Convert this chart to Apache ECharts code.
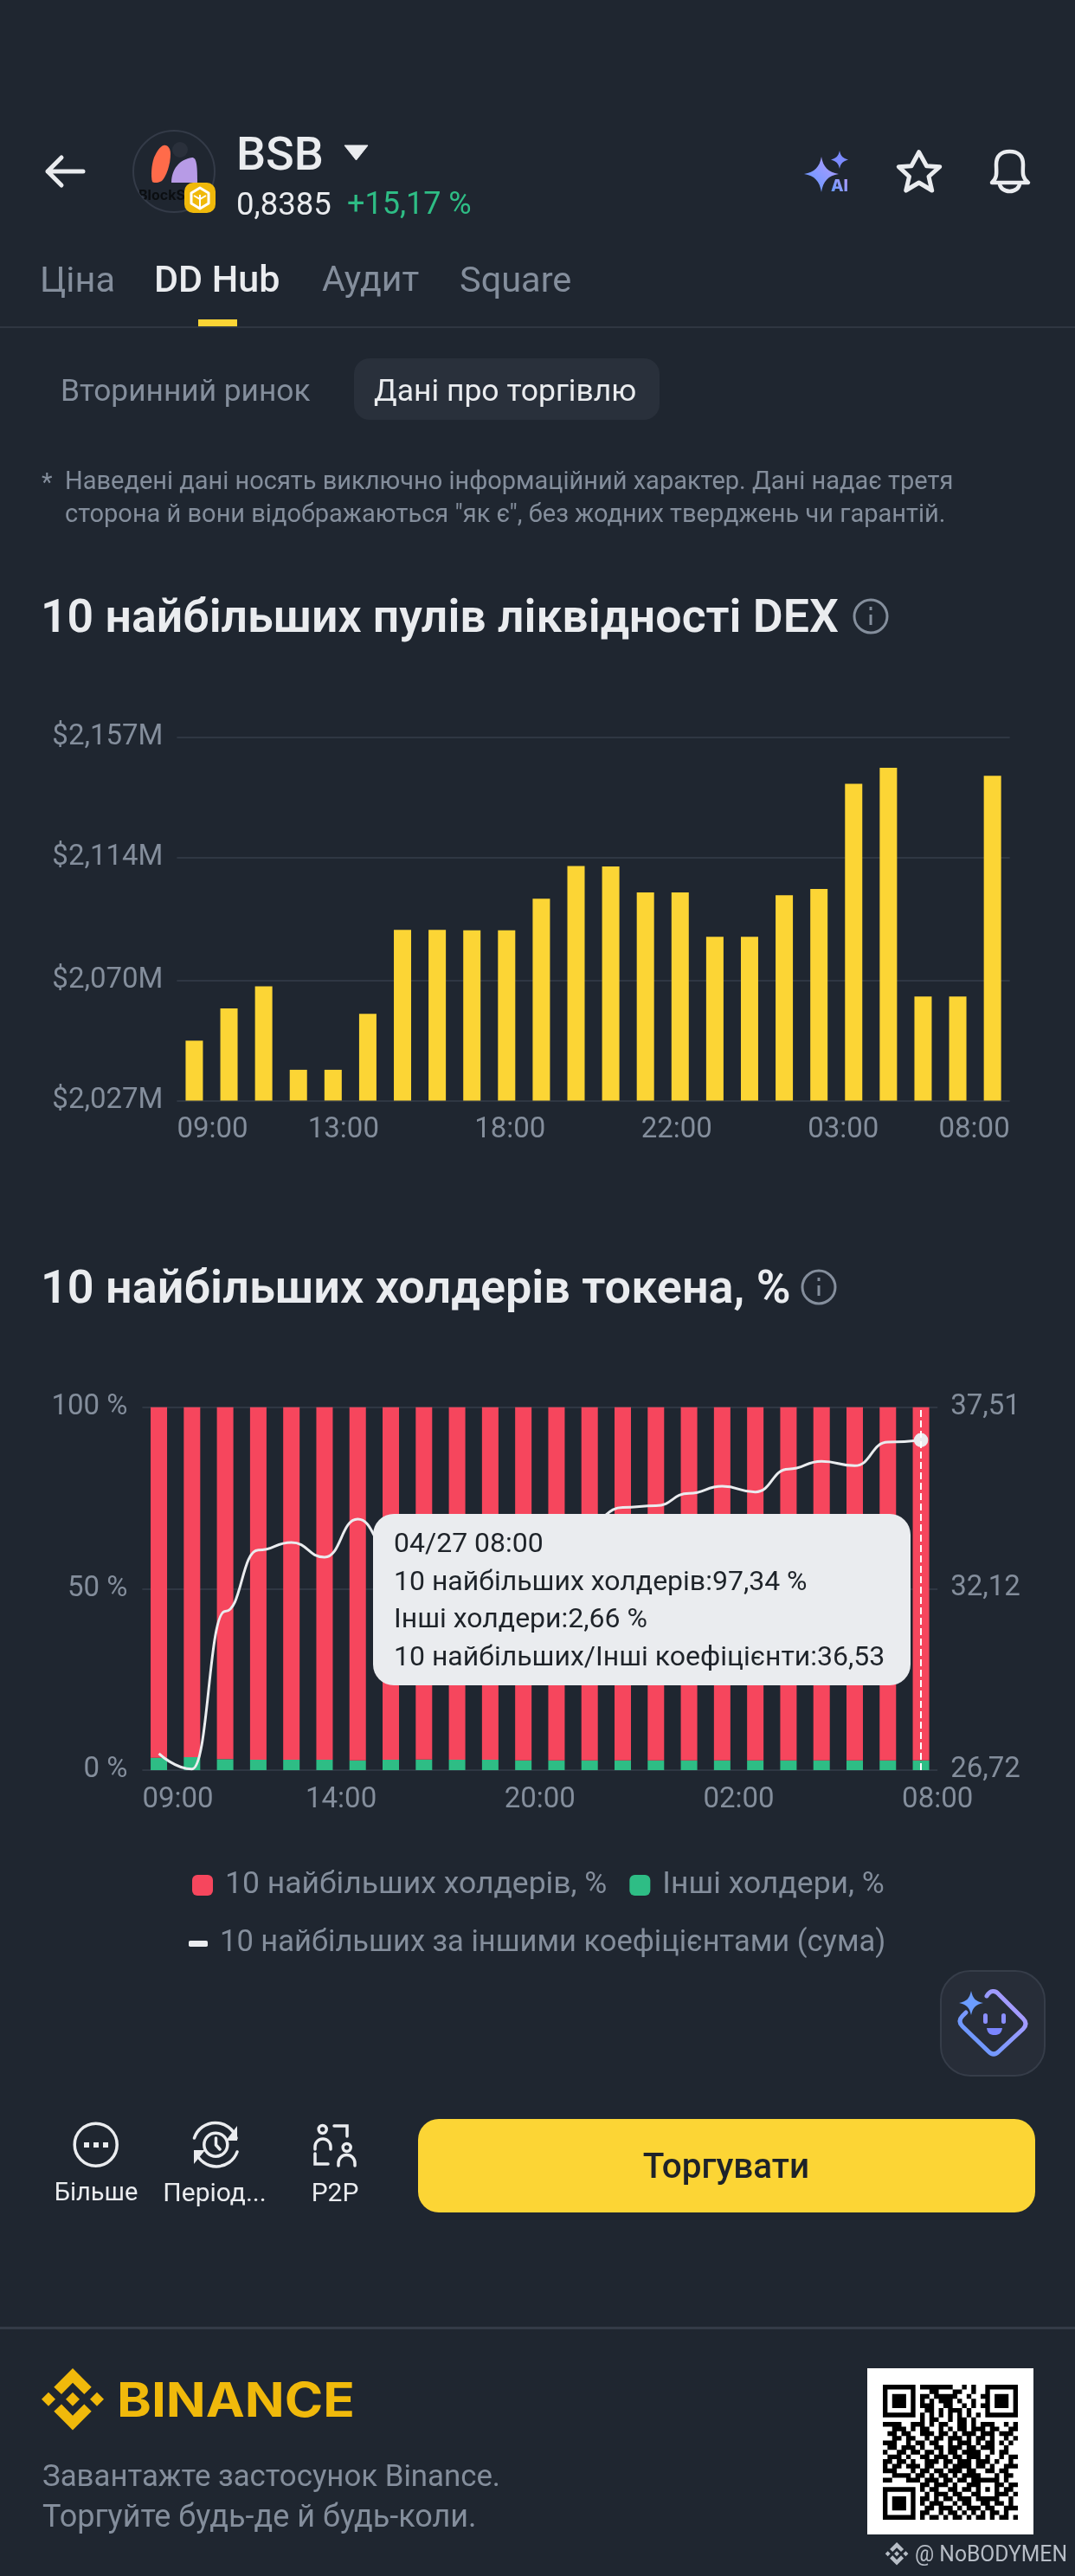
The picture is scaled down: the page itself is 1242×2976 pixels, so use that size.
<!DOCTYPE html>
<html lang="uk">
<head>
<meta charset="utf-8">
<title>BSB DD Hub</title>
<script src="https://cdn.jsdelivr.net/npm/echarts@6/dist/echarts.min.js"></script>
<style>
html,body{margin:0;padding:0;background:#1F2630;}
body{position:relative;width:1242px;height:2976px;overflow:hidden;font-family:Roboto,"Noto Sans",sans-serif;color:#EAECEF;}
.t{position:absolute;white-space:nowrap;transform:translateY(-50%);z-index:5;}
.c{transform:translate(-50%,-50%);}
.g{color:#848E9C;}
#chrome{position:absolute;left:0;top:0;z-index:4;}
#chart1,#chart2{position:absolute;left:0;width:1242px;}
#chart1{top:660px;height:690px;}
#chart2{top:1440px;height:840px;}
</style>
</head>
<body>
<div id="chart1"></div>
<div id="chart2"></div>

<svg id="chrome" width="1242" height="2976" viewBox="0 0 1242 2976" xmlns="http://www.w3.org/2000/svg">
  <defs>
    <linearGradient id="ai" x1="0" y1="1" x2="1" y2="0"><stop offset="0" stop-color="#5B97FF"/><stop offset="1" stop-color="#B99CFF"/></linearGradient>
    <linearGradient id="ai2" gradientUnits="userSpaceOnUse" x1="1108" y1="2370" x2="1185" y2="2300"><stop offset="0" stop-color="#5B97FF"/><stop offset="1" stop-color="#B99CFF"/></linearGradient>
    <g id="bnb">
      <polygon points="84,2763.7 92,2771.7 84,2779.7 76,2771.7"/>
      <polygon points="56,2763.7 64,2771.7 56,2779.7 48,2771.7"/>
      <polygon points="112,2763.7 120,2771.7 112,2779.7 104,2771.7"/>
      <polygon points="84,2736 105.7,2757.7 97.3,2766 84,2752.7 71,2766 62.3,2757.7"/>
      <polygon points="84,2807.4 105.7,2785.7 97.3,2777.4 84,2790.7 71,2777.4 62.3,2785.7"/>
    </g>
    <clipPath id="logoClip"><circle cx="201" cy="198" r="47"/></clipPath>
  </defs>
  <!-- back arrow -->
  <path d="M96 198H55M71 182L55 198L71 214" fill="none" stroke="#EAECEF" stroke-width="5" stroke-linecap="round" stroke-linejoin="round"/>
  <!-- token logo -->
  <circle cx="201" cy="198" r="47" fill="none" stroke="#343B48" stroke-width="2"/>
  <g clip-path="url(#logoClip)">
    <path d="M189 168C194 167 197 172 197 178C197 190 192 204 187 209C184 211 178 212 176 210C174 204 175 190 178 182C181 175 185 169 189 168Z" fill="#FF6B4A"/>
    <path d="M198 211C198 196 207 184 222 182C227 182 228 190 228 211Z" fill="#B79BE6"/>
    <circle cx="208" cy="173" r="9" fill="#2A303B"/>
    <text x="160" y="231" font-family="Inter,Roboto,sans-serif" font-size="16" font-weight="700" fill="#0B0E11">BlockS</text>
  </g>
  <rect x="213" y="211" width="36" height="35" rx="10" fill="#F0B90B"/>
  <path d="M231 217L241 223V235L231 241L221 235V223Z" fill="none" stroke="#fff" stroke-width="3" stroke-linejoin="round"/>
  <path d="M231 225V240M224 226L231 230L238 226" fill="none" stroke="#fff" stroke-width="2"/>
  <!-- dropdown triangle -->
  <path d="M398 168H425L411.5 185Z" fill="#EAECEF" stroke="#EAECEF" stroke-width="1" stroke-linejoin="round"/>
  <!-- AI -->
  <path d="M949 181C951 193 957 199 969 201C957 203 951 209 949 222C947 209 941 203 929 201C941 199 947 193 949 181Z" fill="url(#ai)"/>
  <path d="M970 174C971 180 974 183 980 184.500C974 186 971 189 970 195C969 189 966 186 960 184.500C966 183 969 180 970 174Z" fill="#7C8BFF"/>
  <text x="960" y="221" font-family="Inter,Roboto,sans-serif" font-size="19" font-weight="800" fill="url(#ai)">AI</text>
  <!-- star -->
  <polygon points="1061.700,175.700 1070.500,191.700 1085.700,192.700 1073,204 1076.700,220 1061.700,211 1046.700,220 1050.500,204 1038.300,192.700 1053,191.700" fill="none" stroke="#EAECEF" stroke-width="5" stroke-linejoin="round"/>
  <!-- bell -->
  <path d="M1146 211C1153 205 1151 198 1151 190C1151 180 1157 175 1166.500 175C1176 175 1182 180 1182 190C1182 198 1180 205 1188 211Z" fill="none" stroke="#EAECEF" stroke-width="4.500" stroke-linejoin="round"/>
  <path d="M1155 212A11.500 9 0 0 0 1178 212" fill="none" stroke="#EAECEF" stroke-width="4.500"/>
  <!-- tabs -->
  <rect x="229" y="369" width="45" height="8" fill="#FCD535"/>
  <rect x="0" y="377" width="1242" height="2" fill="#2F3641"/>
  <rect x="409" y="414" width="353" height="71" rx="18" fill="#29303B"/>
  <!-- info icons -->
  <g fill="none" stroke="#848E9C" stroke-width="3">
    <circle cx="1006" cy="712" r="19"/><circle cx="946" cy="1487" r="19"/>
    <path d="M1006 710V722M946 1485V1497"/>
    <path d="M1006 701V705M946 1476V1480"/>
  </g>
  <!-- floating assistant button -->
  <rect x="1087" y="2277" width="120" height="121" rx="34" fill="#272D38" stroke="#363D49" stroke-width="2"/>
  <path d="M1122 2300C1124 2309 1127 2312 1136 2314C1127 2316 1124 2319 1122 2328C1120 2319 1117 2316 1108 2314C1117 2312 1120 2309 1122 2300Z" fill="#6C9DFF"/>
  <path d="M1140 2306C1144 2299 1150 2299 1154 2304L1182 2332C1186 2336 1186 2340 1182 2344L1154 2370C1150 2374 1146 2374 1142 2370L1112 2341C1108 2337 1108 2333 1112 2329L1116 2325" fill="none" stroke="url(#ai2)" stroke-width="5" stroke-linecap="round"/>
  <rect x="1136" y="2326" width="5" height="12" rx="2.500" fill="#8B8FFF"/>
  <rect x="1157" y="2326" width="5" height="12" rx="2.500" fill="#8B8FFF"/>
  <path d="M1140 2343H1158C1157 2350 1153 2351 1149 2351C1145 2351 1141 2350 1140 2343Z" fill="#7A85FF"/>
  <!-- bottom action icons -->
  <g fill="none" stroke="#EAECEF" stroke-width="3.500" stroke-linecap="round">
    <circle cx="110.700" cy="2477.700" r="24.500"/>
    <path d="M224.500 2470A25.500 25.500 0 0 1 273 2470M274 2486A25.500 25.500 0 0 1 226 2486"/>
    <circle cx="249.300" cy="2477.700" r="13.500"/>
    <path d="M249.500 2470V2478L254 2483"/>
    <circle cx="372.700" cy="2460" r="4.500"/>
    <path d="M364 2483V2480A9 9 0 0 1 382 2480V2483M386 2456H401V2468"/>
    <circle cx="400.700" cy="2481" r="4.500"/>
    <path d="M391 2502V2499A9.500 9.500 0 0 1 410 2499V2502M364 2488V2500H379"/>
  </g>
  <g fill="#EAECEF">
    <rect x="97" y="2475" width="6" height="6"/><rect x="108" y="2475" width="6" height="6"/><rect x="119" y="2475" width="6" height="6"/>
    <polygon points="274,2456 274,2473 261,2473"/><polygon points="224,2500 224,2484 237,2484"/>
  </g>
  <!-- trade button -->
  <rect x="483" y="2448" width="713" height="108" rx="24" fill="#FCD535"/>
  <!-- footer -->
  <rect x="0" y="2688" width="1242" height="3" fill="#343B47"/>
  <use href="#bnb" fill="#F0B90B"/>
  <text x="135" y="2792" font-family="Inter,Roboto,sans-serif" font-size="55" font-weight="700" fill="#F0B90B" textLength="275" lengthAdjust="spacingAndGlyphs">BINANCE</text>
  <rect x="1002" y="2736" width="192" height="192" fill="#fff"/>
  <g id="qr" fill="#000"></g>
  <g transform="translate(1005,2937) scale(0.37)"><use href="#bnb" transform="translate(0,-2736)" fill="#B7BDC6"/></g>
  <text x="1057" y="2959" font-family="Roboto,sans-serif" font-size="25" fill="#B7BDC6" textLength="176" lengthAdjust="spacingAndGlyphs">@ NoBODYMEN</text>
</svg>

<div class="t" style="left:273px;top:177px;font-size:54px;font-weight:500;">BSB</div>
<div class="t" style="left:273px;top:235px;font-size:36.500px;">0,8385</div>
<div class="t" style="left:401px;top:235px;font-size:36px;color:#2EBD85;">+15,17 %</div>

<div class="t g" style="left:46px;top:322px;font-size:41.500px;">Ціна</div>
<div class="t" style="left:178px;top:322px;font-size:43px;font-weight:500;">DD Hub</div>
<div class="t g" style="left:372px;top:322px;font-size:41px;">Аудит</div>
<div class="t g" style="left:531px;top:322px;font-size:41.500px;">Square</div>

<div class="t g" style="left:70px;top:451px;font-size:35.300px;">Вторинний ринок</div>
<div class="t" style="left:432px;top:451px;font-size:35.500px;">Дані про торгівлю</div>

<div class="t g" style="left:48px;top:557px;font-size:29px;">*</div>
<div class="t g" style="left:75px;top:555px;font-size:29px;">Наведені дані носять виключно інформаційний характер. Дані надає третя</div>
<div class="t g" style="left:75px;top:593px;font-size:29px;">сторона й вони відображаються "як є", без жодних тверджень чи гарантій.</div>

<div class="t c g" style="left:111px;top:2532px;font-size:29px;color:#EAECEF;">Більше</div>
<div class="t c g" style="left:248px;top:2532px;font-size:30px;color:#EAECEF;">Період...</div>
<div class="t c g" style="left:387px;top:2532px;font-size:30px;color:#EAECEF;">P2P</div>
<div class="t c" style="left:839px;top:2502px;font-size:40.500px;font-weight:500;color:#1E2329;">Торгувати</div>

<div class="t g" style="left:49px;top:2860px;font-size:34.800px;">Завантажте застосунок Binance.</div>
<div class="t g" style="left:49px;top:2907px;font-size:36px;">Торгуйте будь-де й будь-коли.</div>

<script>
/* ---------- chart 1: 10 largest DEX liquidity pools ---------- */
const poolTitle = '10 найбільших пулів ліквідності DEX';
const poolHours = ['09:00','10:00','11:00','12:00','13:00','14:00','15:00','16:00','17:00','18:00','19:00','20:00','21:00','22:00','23:00','00:00','01:00','02:00','03:00','04:00','05:00','06:00','07:00','08:00'];
const poolValues = [2048.4,2060.0,2067.9,2038.0,2038.0,2058.0,2088.1,2088.1,2087.9,2087.9,2099.2,2110.9,2110.8,2101.5,2101.5,2085.6,2085.6,2100.5,2102.7,2140.4,2146.1,2064.2,2064.2,2143.2];
const poolXLabels = ['09:00','13:00','18:00','22:00','03:00','08:00'];
const poolYTicks = [2027,2070,2114,2157];

/* ---------- chart 2: 10 largest token holders ---------- */
const holderTitle = '10 найбільших холдерів токена, %';
const holderHours = poolHours;
const otherShare = [3.42,3.58,3.02,2.86,2.86,2.86,2.70,2.86,2.94,2.86,2.86,2.70,2.70,2.70,2.70,2.70,2.70,2.70,2.70,2.70,2.70,2.70,2.70,2.66];
const topShare = [96.58,96.42,96.98,97.14,97.14,97.14,97.30,97.14,97.06,97.14,97.14,97.30,97.30,97.30,97.30,97.30,97.30,97.30,97.30,97.30,97.30,97.30,97.30,97.34];
const ratioValues = [27.21,26.75,31.44,33.26,33.49,33.05,34.18,33.2,33.4,33.6,33.5,33.7,33.9,34.1,34.53,34.58,34.95,35.16,34.99,35.67,35.90,35.77,36.47,36.53];
const holderXLabels = ['09:00','14:00','20:00','02:00','08:00'];
const shareTicks = [0,50,100];
const ratioTicks = [26.72,32.12,37.51];
const nameTop = '10 найбільших холдерів, %';
const nameOther = 'Інші холдери, %';
const nameRatio = '10 найбільших за іншими коефіцієнтами (сума)';
const tipDate = '04/27 08:00';
const tipTop = '10 найбільших холдерів';
const tipOther = 'Інші холдери';
const tipRatio = '10 найбільших/Інші коефіцієнти';

/* ---------- QR pattern (footer decoration) ---------- */
const qrRows = [
'11111110111111100101001111111','10000010001100011001001000001','10111010110111110010011011101','10111010101011101001001011101','10111010111001100101011011101','10000010011010111010001000001','11111110101010101010101111111','00000000101100101101000000000',
'11110011101011001101011100101','00111010110010101101110110011','01101100111011010111011101110','00110110010110111010110100101','11100101101100101110101101010','01101110100110111011011100100','10011011011010110111100101100','01110100110111011011101001011','11011010011101101110111010010','10110111011001011110110100111','11100010110110111011001101100','00111101101011010111100010110',
'11000111011101101101111110100','00000000110111010011100011011','11111110101100110110101010110','10000010010111011001100011101','10111010110101101110111110010','10111010101110010110011011010','10111010011011101011101100111','10000010110010110101010110100','11111110101101011010110101101'];

const FONT = 'Roboto,"Noto Sans",sans-serif';
const GRID = '#2F3743', GREY = '#848E9C', WHITE = '#EAECEF';
const comma = v => String(v).replace('.', ',');
const money = v => '$' + String(v).replace(/(\d)(\d{3})$/, '$1,$2') + 'M';

(function drawQr(){
  const s = 156/29, g = document.getElementById('qr');
  let d = '';
  qrRows.forEach((row, r) => { for (let c = 0; c < row.length; c++) if (row[c] === '1')
    d += 'M' + (1020 + c*s).toFixed(2) + ' ' + (2755 + r*s).toFixed(2) + 'h' + s.toFixed(2) + 'v' + s.toFixed(2) + 'h-' + s.toFixed(2) + 'z'; });
  g.innerHTML = '<path d="' + d + '"/>';
})();

const axisText = {color: GREY, fontSize: 33, fontFamily: FONT};

const chart1 = echarts.init(document.getElementById('chart1'));
chart1.setOption({
  animation: false,
  backgroundColor: 'transparent',
  title: {text: poolTitle, left: 47, top: 30, padding: 0, textStyle: {color: WHITE, fontSize: 53.6, fontWeight: 600, fontFamily: FONT}},
  grid: {left: 204.4, right: 75.3, top: 191.8, bottom: 78.6},
  xAxis: [
    {type: 'category', data: poolHours, axisLine: {show: false}, axisTick: {show: false}, axisLabel: {show: false}},
    {type: 'category', data: poolXLabels, boundaryGap: false, position: 'bottom',
     axisLine: {show: false}, axisTick: {show: false},
     axisLabel: Object.assign({interval: 0, margin: 18, alignMinLabel: 'left', alignMaxLabel: 'right'}, axisText)}
  ],
  yAxis: {type: 'value', min: poolYTicks[0], max: poolYTicks[3],
    axisLine: {show: false},
    axisTick: {show: false, customValues: poolYTicks},
    axisLabel: Object.assign({customValues: poolYTicks, margin: 16, formatter: money}, axisText),
    splitLine: {show: true, lineStyle: {color: GRID, width: 2}}},
  series: [{type: 'bar', xAxisIndex: 0, data: poolValues, barWidth: 20, itemStyle: {color: '#FCD535'}, emphasis: {disabled: true}}]
});

const chart2 = echarts.init(document.getElementById('chart2'));
chart2.setOption({
  animation: false,
  backgroundColor: 'transparent',
  title: {text: holderTitle, left: 47, top: 24, padding: 0, textStyle: {color: WHITE, fontSize: 54, fontWeight: 600, fontFamily: FONT}},
  grid: {left: 164.4, right: 158.8, top: 185.7, bottom: 235},
  legend: [
    {data: [nameTop, nameOther], left: 222, top: 720, padding: 0, itemWidth: 24, itemHeight: 24, itemGap: 26, icon: 'roundRect', selectedMode: false,
     textStyle: {color: GREY, fontSize: 35.5, fontFamily: FONT, padding: [0,0,0,9]}},
    {data: [nameRatio], left: 218, top: 788, padding: 0, itemWidth: 22, itemHeight: 7, icon: 'roundRect', selectedMode: false,
     textStyle: {color: GREY, fontSize: 34.5, fontFamily: FONT, padding: [0,0,0,9]}}
  ],
  tooltip: {
    trigger: 'axis',
    alwaysShowContent: true,
    transitionDuration: 0,
    backgroundColor: WHITE,
    borderWidth: 0,
    padding: [12, 24],
    textStyle: {color: '#1E2329', fontSize: 32, fontFamily: FONT},
    extraCssText: 'border-radius:24px;box-shadow:none;width:573px;line-height:43.5px;',
    position: () => [431, 309],
    axisPointer: {type: 'line', lineStyle: {color: '#FFFFFF', type: 'dashed', width: 2}},
    formatter: params => {
      const i = params[0].dataIndex;
      return tipDate + '<br>' + tipTop + ':' + comma(topShare[i]) + ' %<br>' + tipOther + ':' + comma(otherShare[i]) + ' %<br>' + tipRatio + ':' + comma(ratioValues[i]);
    }
  },
  xAxis: [
    {type: 'category', data: holderHours, axisLine: {show: false}, axisTick: {show: false}, axisLabel: {show: false}},
    {type: 'category', data: holderXLabels, boundaryGap: false, position: 'bottom',
     axisPointer: {show: false}, triggerEvent: false,
     axisLine: {show: false}, axisTick: {show: false},
     axisLabel: Object.assign({interval: 0, margin: 18, alignMinLabel: 'left', alignMaxLabel: 'center'}, axisText)}
  ],
  yAxis: [
    {type: 'value', min: 0, max: 100, interval: 50, axisLine: {show: false}, axisTick: {show: false},
     axisLabel: Object.assign({margin: 17, formatter: v => v + ' %'}, axisText),
     splitLine: {show: true, lineStyle: {color: GRID, width: 2}}},
    {type: 'value', position: 'right', min: ratioTicks[0], max: ratioTicks[2], axisLine: {show: false},
     axisTick: {show: false, customValues: ratioTicks},
     axisLabel: Object.assign({customValues: ratioTicks, margin: 15, formatter: comma}, axisText),
     splitLine: {show: false}}
  ],
  series: [
    {name: nameOther, type: 'bar', stack: 'share', xAxisIndex: 0, yAxisIndex: 0, data: otherShare, barWidth: 19, itemStyle: {color: '#2EBD85'}, emphasis: {disabled: true}},
    {name: nameTop, type: 'bar', stack: 'share', xAxisIndex: 0, yAxisIndex: 0, data: topShare, barWidth: 19, itemStyle: {color: '#F6465D'}, emphasis: {disabled: true}},
    {name: nameRatio, type: 'line', xAxisIndex: 0, yAxisIndex: 1, data: ratioValues, smooth: 0.5, smoothMonotone: 'x',
     symbol: (v, p) => p.dataIndex === ratioValues.length - 1 ? 'circle' : 'none', symbolSize: 15, showSymbol: true, showAllSymbol: true,
     lineStyle: {color: WHITE, width: 3}, itemStyle: {color: WHITE}, emphasis: {disabled: true}}
  ]
});
chart2.dispatchAction({type: 'showTip', seriesIndex: 2, dataIndex: ratioValues.length - 1});
</script>
</body>
</html>
